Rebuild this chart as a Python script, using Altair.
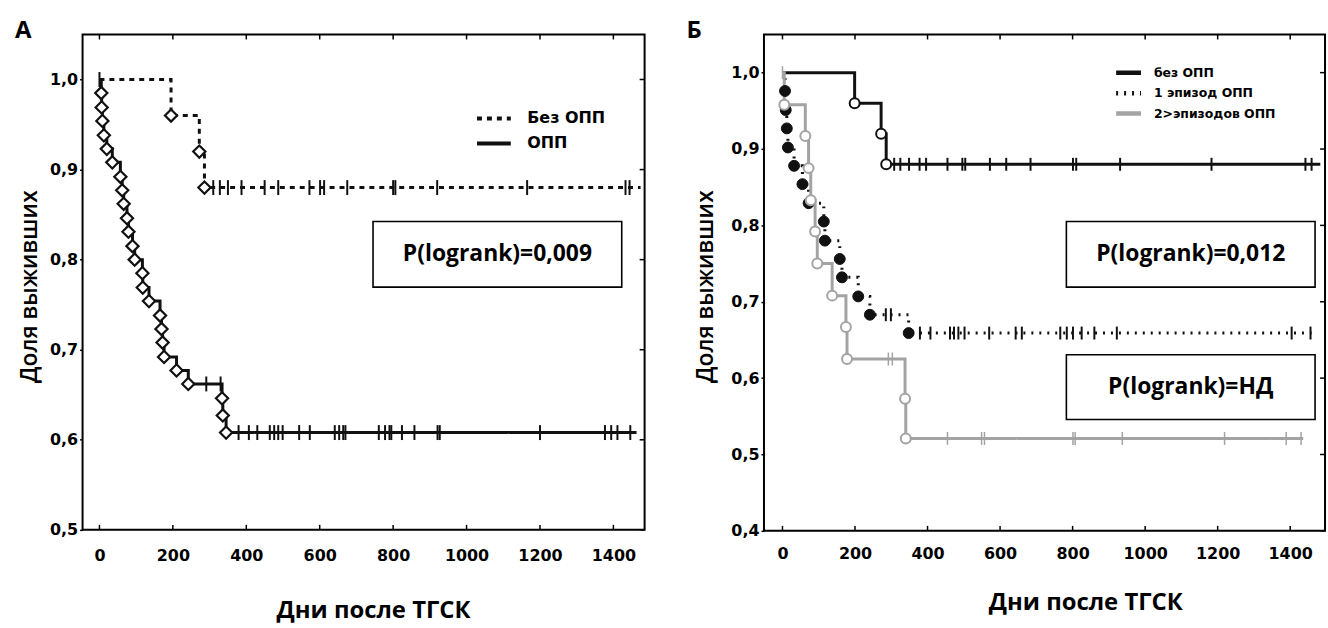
import altair as alt
import pandas as pd

FONT = "Open Sans"
TICKFONT = "DejaVu Sans"
BLACK = "#111111"
GRAY = "#a3a3a3"
LINE_SYMBOL = "M-2,0L2,0"

# ---------------- Panel А ----------------
A_series = ["Без ОПП", "ОПП"]
A_free_event_days = [195, 272, 286]
A_free_event_surv = [0.960, 0.920, 0.880]
A_free_censor_days = [0, 310, 328, 350, 387, 450, 487, 572, 601, 612, 675, 800, 806, 920, 1165, 1433, 1444]
A_free_end_day = 1474

A_aki_event_days = [5, 6, 8, 12, 20, 35, 57, 62, 66, 75, 79, 90, 96, 117, 118, 135, 165, 169, 172, 176,
                    210, 242, 334, 336, 345]
A_aki_event_surv = [0.985, 0.969, 0.954, 0.938, 0.923, 0.908, 0.892, 0.877, 0.862, 0.846, 0.831, 0.815,
                    0.800, 0.785, 0.769, 0.754, 0.738, 0.723, 0.708, 0.692, 0.677, 0.662, 0.646, 0.627, 0.608]
A_aki_censor_days = [291, 330, 379, 407, 430, 464, 476, 487, 499, 544, 573, 641, 653, 664, 670, 761, 778,
                     790, 795, 824, 858, 921, 927, 1200, 1377, 1394, 1411, 1446]
A_aki_end_day = 1463
A_pvalue = "P(logrank)=0,009"

# ---------------- Panel Б ----------------
B_series = ["без ОПП", "1 эпизод ОПП", "2>эпизодов ОПП"]
B_free_event_days = [199, 272, 286]
B_free_event_surv = [0.960, 0.920, 0.880]
B_free_censor_days = [308, 325, 349, 378, 396, 455, 496, 504, 572, 617, 684, 801, 810, 931, 1183, 1442, 1459]
B_free_end_day = 1483

B_one_event_days = [7, 9, 12, 15, 32, 55, 72, 114, 117, 158, 164, 209, 241, 348]
B_one_event_surv = [0.976, 0.951, 0.927, 0.902, 0.878, 0.854, 0.829, 0.805, 0.780, 0.756, 0.732, 0.707,
                    0.683, 0.659]
B_one_censor_days = [285, 299, 379, 408, 462, 473, 485, 502, 570, 643, 660, 766, 784, 801, 825, 860, 922,
                     1404, 1456]
B_one_end_day = 1459

B_multi_event_days = [5, 63, 72, 78, 90, 96, 137, 175, 178, 338, 340]
B_multi_event_surv = [0.958, 0.917, 0.875, 0.833, 0.792, 0.750, 0.708, 0.667, 0.625, 0.573, 0.521]
B_multi_censor_days = [0, 292, 303, 455, 549, 557, 801, 807, 937, 1219, 1389, 1430]
B_multi_end_day = 1436
B_pvalue_1 = "P(logrank)=0,012"
B_pvalue_2 = "P(logrank)=НД"

X_TICKS = [0, 200, 400, 600, 800, 1000, 1200, 1400]
A_Y_TICKS = [0.5, 0.6, 0.7, 0.8, 0.9, 1.0]
B_Y_TICKS = [0.4, 0.5, 0.6, 0.7, 0.8, 0.9, 1.0]

X_TITLE = "Дни после ТГСК"
Y_TITLE = "Доля выживших"


def curve_rows(series, ev_days, ev_surv, end_day):
    rows = [{"series": series, "day": 0, "surv": 1.0}]
    rows += [{"series": series, "day": d, "surv": v} for d, v in zip(ev_days, ev_surv)]
    rows.append({"series": series, "day": end_day, "surv": ev_surv[-1]})
    return rows


def event_rows(series, ev_days, ev_surv):
    return [{"series": series, "day": d, "surv": v} for d, v in zip(ev_days, ev_surv)]


def censor_rows(series, c_days, ev_days, ev_surv):
    rows = []
    for c in c_days:
        s = 1.0
        for d, v in zip(ev_days, ev_surv):
            if d <= c:
                s = v
        rows.append({"series": series, "day": c, "surv": s})
    return rows


def x_axis(label_pad, title_x, title_y):
    return alt.Axis(values=X_TICKS, format="d", ticks=False, domain=False, grid=False,
                    labelFont=TICKFONT, labelFontSize=16, labelFontWeight="bold", labelColor="black",
                    labelPadding=label_pad, title=X_TITLE, titleFont=FONT, titleFontSize=24,
                    titleFontWeight="bold", titleColor="black", titleX=title_x, titleY=title_y,
                    titleBaseline="middle", titleAlign="center")


def y_axis(values, title_x, title_y):
    return alt.Axis(values=values, labelExpr="replace(format(datum.value, '.1f'), '.', ',')",
                    tickSize=3, tickColor="black", tickWidth=1.5, domain=False, grid=False,
                    labelFont=TICKFONT, labelFontSize=16, labelFontWeight="bold", labelColor="black",
                    labelPadding=2, title=Y_TITLE, titleFont=FONT, titleFontSize=23,
                    titleFontWeight=600, titleColor="black", titleX=title_x, titleY=title_y,
                    titleBaseline="middle", titleAlign="center", titleAngle=270)


def frame_ticks(xs, ys, yv, w, h):
    tx = pd.DataFrame({"day": X_TICKS})
    ty = pd.DataFrame({"surv": yv})
    top = alt.Chart(tx).mark_rule(color="black", strokeWidth=1.5).encode(
        x=alt.X("day:Q", scale=xs), y=alt.value(0), y2=alt.value(5))
    bottom = alt.Chart(tx).mark_rule(color="black", strokeWidth=1.5).encode(
        x=alt.X("day:Q", scale=xs), y=alt.value(h), y2=alt.value(h - 5))
    right = alt.Chart(ty).mark_rule(color="black", strokeWidth=1.5).encode(
        y=alt.Y("surv:Q", scale=ys), x=alt.value(w), x2=alt.value(w - 5))
    return [top, bottom, right]


def pbox(text, x0, x1, y0, y1):
    d = pd.DataFrame({"label": [text]})
    rect = alt.Chart(d).mark_rect(filled=False, stroke="black", strokeWidth=1.6).encode(
        x=alt.value(x0), x2=alt.value(x1), y=alt.value(y0), y2=alt.value(y1))
    txt = alt.Chart(d).mark_text(font=FONT, fontSize=23, fontWeight="bold", color="black",
                                 align="center", baseline="middle").encode(
        text="label:N", x=alt.value((x0 + x1) / 2), y=alt.value((y0 + y1) / 2))
    return [rect, txt]


# ---------------- build panel А ----------------
WA, HA = 565, 498
xA = alt.Scale(domain=[-46, 1485], nice=False, zero=False)
yA = alt.Scale(domain=[0.5, 1.05], nice=False, zero=False)

A_lines = pd.DataFrame(curve_rows(A_series[0], A_free_event_days, A_free_event_surv, A_free_end_day)
                       + curve_rows(A_series[1], A_aki_event_days, A_aki_event_surv, A_aki_end_day))
A_events = pd.DataFrame(event_rows(A_series[0], A_free_event_days, A_free_event_surv)
                        + event_rows(A_series[1], A_aki_event_days, A_aki_event_surv))
A_cens = pd.DataFrame(censor_rows(A_series[0], A_free_censor_days, A_free_event_days, A_free_event_surv)
                      + censor_rows(A_series[1], A_aki_censor_days, A_aki_event_days, A_aki_event_surv))

legA = alt.Legend(orient="none", legendX=403, legendY=74, symbolType=LINE_SYMBOL, symbolSize=289,
                  symbolStrokeWidth=4, labelFont=TICKFONT, labelFontSize=16, labelFontWeight="bold",
                  labelColor="black", rowPadding=6, labelOffset=23, padding=0)

A_line = alt.Chart(A_lines).mark_line(interpolate="step-after", strokeWidth=3).encode(
    x=alt.X("day:Q", scale=xA, axis=x_axis(18, 292, 81)),
    y=alt.Y("surv:Q", scale=yA, axis=y_axis(A_Y_TICKS, -53, 253)),
    color=alt.Color("series:N", scale=alt.Scale(domain=A_series, range=[BLACK, BLACK]),
                    legend=legA, title=None),
    strokeDash=alt.StrokeDash("series:N", scale=alt.Scale(domain=A_series, range=[[5, 5], [1, 0]]),
                              title=None),
)
A_cmark = alt.Chart(A_cens).mark_tick(orient="vertical", size=15, thickness=2, color=BLACK,
                                      opacity=1).encode(
    x=alt.X("day:Q", scale=xA), y=alt.Y("surv:Q", scale=yA))
A_pts = alt.Chart(A_events).mark_point(shape="diamond", filled=True, fill="white", stroke=BLACK,
                                       strokeWidth=2.2, size=150, opacity=1).encode(
    x=alt.X("day:Q", scale=xA), y=alt.Y("surv:Q", scale=yA))

chartA = alt.layer(
    A_line, A_cmark, A_pts, *frame_ticks(xA, yA, A_Y_TICKS, WA, HA),
    *pbox(A_pvalue, 292, 542, 188, 254)
).properties(
    width=WA, height=HA,
    title=alt.TitleParams("А", anchor="start", frame="bounds", font=FONT, fontSize=24,
                          fontWeight="bold", color="black", dx=-4, offset=-9),
)

# ---------------- build panel Б ----------------
WB, HB = 564, 499
xB = alt.Scale(domain=[-51, 1496], nice=False, zero=False)
yB = alt.Scale(domain=[0.4, 1.05], nice=False, zero=False)

B_lines = pd.DataFrame(curve_rows(B_series[0], B_free_event_days, B_free_event_surv, B_free_end_day)
                       + curve_rows(B_series[1], B_one_event_days, B_one_event_surv, B_one_end_day)
                       + curve_rows(B_series[2], B_multi_event_days, B_multi_event_surv, B_multi_end_day))
B_free_ev = pd.DataFrame(event_rows(B_series[0], B_free_event_days, B_free_event_surv))
B_one_ev = pd.DataFrame(event_rows(B_series[1], B_one_event_days, B_one_event_surv))
B_multi_ev = pd.DataFrame(event_rows(B_series[2], B_multi_event_days, B_multi_event_surv))
B_cens_dark = pd.DataFrame(
    censor_rows(B_series[0], B_free_censor_days, B_free_event_days, B_free_event_surv)
    + censor_rows(B_series[1], B_one_censor_days, B_one_event_days, B_one_event_surv))
B_cens_gray = pd.DataFrame(
    censor_rows(B_series[2], B_multi_censor_days, B_multi_event_days, B_multi_event_surv))

legB = alt.Legend(orient="none", legendX=358, legendY=30, symbolType=LINE_SYMBOL, symbolSize=156,
                  symbolStrokeWidth=4.5, labelFont=TICKFONT, labelFontSize=12.5, labelFontWeight="bold",
                  labelColor="black", rowPadding=1.5, labelOffset=17, padding=0)

B_line = alt.Chart(B_lines).mark_line(interpolate="step-after", strokeWidth=3).encode(
    x=alt.X("day:Q", scale=xB, axis=x_axis(15, 323, 72)),
    y=alt.Y("surv:Q", scale=yB, axis=y_axis(B_Y_TICKS, -59, 253)),
    color=alt.Color("series:N", scale=alt.Scale(domain=B_series, range=[BLACK, BLACK, GRAY]),
                    legend=legB, title=None),
    strokeDash=alt.StrokeDash("series:N",
                              scale=alt.Scale(domain=B_series, range=[[1, 0], [2, 6], [1, 0]]),
                              title=None),
)
B_cmark_d = alt.Chart(B_cens_dark).mark_tick(orient="vertical", size=13, thickness=2, color=BLACK,
                                             opacity=1).encode(
    x=alt.X("day:Q", scale=xB), y=alt.Y("surv:Q", scale=yB))
B_cmark_g = alt.Chart(B_cens_gray).mark_tick(orient="vertical", size=13, thickness=1.5, color=GRAY,
                                             opacity=1).encode(
    x=alt.X("day:Q", scale=xB), y=alt.Y("surv:Q", scale=yB))
B_pts_free = alt.Chart(B_free_ev).mark_point(shape="circle", filled=True, fill="white", stroke=BLACK,
                                             strokeWidth=2, size=100, opacity=1).encode(
    x=alt.X("day:Q", scale=xB), y=alt.Y("surv:Q", scale=yB))
B_pts_one = alt.Chart(B_one_ev).mark_point(shape="circle", filled=True, fill=BLACK, stroke=BLACK,
                                           strokeWidth=1, size=120, opacity=1).encode(
    x=alt.X("day:Q", scale=xB), y=alt.Y("surv:Q", scale=yB))
B_pts_multi = alt.Chart(B_multi_ev).mark_point(shape="circle", filled=True, fill="white", stroke=GRAY,
                                               strokeWidth=2, size=100, opacity=1).encode(
    x=alt.X("day:Q", scale=xB), y=alt.Y("surv:Q", scale=yB))

chartB = alt.layer(
    B_line, B_cmark_d, B_cmark_g, B_pts_free, B_pts_one, B_pts_multi,
    *frame_ticks(xB, yB, B_Y_TICKS, WB, HB),
    *pbox(B_pvalue_1, 304, 554, 188, 254), *pbox(B_pvalue_2, 304, 554, 322, 387)
).properties(
    width=WB, height=HB,
    title=alt.TitleParams("Б", anchor="start", frame="bounds", font=FONT, fontSize=24,
                          fontWeight="bold", color="black", dx=-8, offset=-9),
)

chart = alt.hconcat(chartA, chartB, spacing=38).resolve_scale(
    color="independent", strokeDash="independent"
).resolve_legend(color="independent", strokeDash="independent").properties(
    padding={"left": 14, "top": 16, "right": 0, "bottom": 0}, background="white"
).configure_view(stroke="black", strokeWidth=2)

chart.save("out.html", embed_options={"renderer": "svg", "actions": False})
